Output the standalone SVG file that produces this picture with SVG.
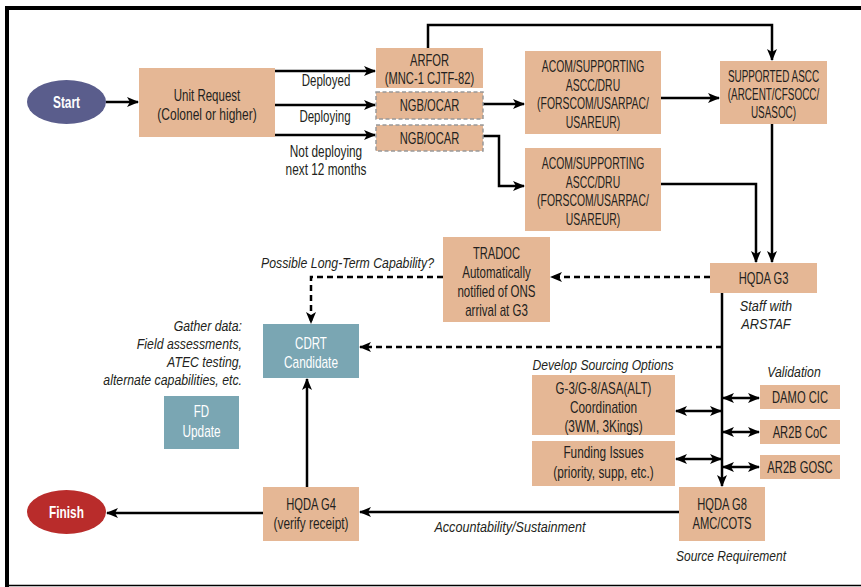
<svg xmlns="http://www.w3.org/2000/svg" width="861" height="587" viewBox="0 0 861 587">
<defs>
<style>
.box{fill:#e5b795}
.teal{fill:#7aa6b3}
.dbox{fill:#e5b795;stroke:#999;stroke-width:1.5;stroke-dasharray:4,2.5}
text{font-family:"Liberation Sans",Arial,sans-serif;font-size:16px;fill:#231f20;text-anchor:middle}
.w{fill:#fff}
.b{font-weight:bold;fill:#fff}
.i{font-style:italic;font-size:15px}
.e{text-anchor:end}
.c{fill:none;stroke:#000;stroke-width:2.5}
.d{fill:none;stroke:#000;stroke-width:2.5;stroke-dasharray:6,4}
</style>
<marker id="a" viewBox="0 0 12 10" refX="11" refY="5" markerWidth="12" markerHeight="10" markerUnits="userSpaceOnUse" orient="auto-start-reverse">
<path d="M0,0 L12,5 L0,10 L3,5 z" fill="#000"/>
</marker>
</defs>
<rect width="861" height="587" fill="#fff"/>
<path d="M7,587 V8 H861" fill="none" stroke="#000" stroke-width="4"/>
<line x1="5" y1="585.5" x2="861" y2="585.5" stroke="#000" stroke-width="1.5"/>

<g id="connectors">
<line class="c" x1="106" y1="102" x2="138" y2="102" marker-end="url(#a)"/>
<line class="c" x1="275" y1="71" x2="375" y2="71" marker-end="url(#a)"/>
<line class="c" x1="275" y1="105" x2="375" y2="105" marker-end="url(#a)"/>
<line class="c" x1="275" y1="135" x2="375" y2="135" marker-end="url(#a)"/>
<polyline class="c" points="428,48 428,25 772,25 772,60" marker-end="url(#a)"/>
<line class="c" x1="483" y1="104" x2="524" y2="104" marker-end="url(#a)"/>
<polyline class="c" points="483,136 499,136 499,186 524,186" marker-end="url(#a)"/>
<line class="c" x1="661" y1="98" x2="719" y2="98" marker-end="url(#a)"/>
<polyline class="c" points="661,184 756,184 756,262" marker-end="url(#a)"/>
<line class="c" x1="772" y1="124" x2="772" y2="262" marker-end="url(#a)"/>
<line class="c" x1="722" y1="293" x2="722" y2="486" marker-end="url(#a)"/>
<line class="d" x1="710" y1="277" x2="551" y2="277" marker-end="url(#a)"/>
<polyline class="d" points="443,277 311,277 311,323" marker-end="url(#a)"/>
<line class="d" x1="722" y1="347" x2="360" y2="347" marker-end="url(#a)"/>
<line class="c" x1="676" y1="411" x2="721" y2="411" marker-start="url(#a)" marker-end="url(#a)"/>
<line class="c" x1="676" y1="459" x2="721" y2="459" marker-start="url(#a)" marker-end="url(#a)"/>
<line class="c" x1="723" y1="398" x2="759" y2="398" marker-start="url(#a)" marker-end="url(#a)"/>
<line class="c" x1="723" y1="432" x2="759" y2="432" marker-start="url(#a)" marker-end="url(#a)"/>
<line class="c" x1="723" y1="467" x2="759" y2="467" marker-start="url(#a)" marker-end="url(#a)"/>
<line class="c" x1="679" y1="512" x2="360" y2="512" marker-end="url(#a)"/>
<line class="c" x1="307" y1="487" x2="307" y2="379" marker-end="url(#a)"/>
<line class="c" x1="263" y1="513" x2="107" y2="513" marker-end="url(#a)"/>
</g>

<g id="labels">
<text transform="translate(326,86) scale(.72,1)">Deployed</text>
<text transform="translate(325,122) scale(.72,1)">Deploying</text>
<text transform="translate(326,157) scale(.74,1)">Not deploying</text>
<text transform="translate(326,175) scale(.74,1)">next 12 months</text>
<text class="i e" transform="translate(434,268) scale(.82,1)">Possible Long-Term Capability?</text>
<text class="i" transform="translate(766,311) scale(.85,1)">Staff with</text>
<text class="i" transform="translate(766,329) scale(.85,1)">ARSTAF</text>
<text class="i e" transform="translate(242,331) scale(.82,1)">Gather data:</text>
<text class="i e" transform="translate(242,349) scale(.82,1)">Field assessments,</text>
<text class="i e" transform="translate(242,367) scale(.82,1)">ATEC testing,</text>
<text class="i e" transform="translate(242,385) scale(.82,1)">alternate capabilities, etc.</text>
<text class="i" transform="translate(603,370) scale(.81,1)">Develop Sourcing Options</text>
<text class="i" transform="translate(794,377) scale(.82,1)">Validation</text>
<text class="i" transform="translate(510,532) scale(.84,1)">Accountability/Sustainment</text>
<text class="i" transform="translate(731,561) scale(.8,1)">Source Requirement</text>
</g>

<g id="start"><ellipse cx="66.5" cy="102" rx="39.5" ry="22" fill="#5a5d8c"/><text class="b" transform="translate(66.5,108) scale(.74,1)">Start</text></g>
<g id="finish"><ellipse cx="66.5" cy="512" rx="39.5" ry="22" fill="#b92c2b"/><text class="b" transform="translate(66.5,518) scale(.74,1)">Finish</text></g>

<g id="unit-request"><rect class="box" x="139" y="68" width="136" height="69"/><text transform="translate(207,101) scale(.72,1)">Unit Request</text><text transform="translate(207,120) scale(.75,1)">(Colonel or higher)</text></g>
<g id="arfor"><rect class="box" x="376" y="48" width="107" height="40"/><text transform="translate(429.5,66) scale(.7,1)">ARFOR</text><text transform="translate(429.5,84) scale(.7,1)">(MNC-1 CJTF-82)</text></g>
<g id="ngb1"><rect class="dbox" x="376" y="92" width="107" height="27"/><text transform="translate(429.5,111) scale(.7,1)">NGB/OCAR</text></g>
<g id="ngb2"><rect class="dbox" x="376" y="125" width="107" height="26"/><text transform="translate(429.5,144) scale(.7,1)">NGB/OCAR</text></g>
<g id="acom1"><rect class="box" x="525" y="51" width="136" height="83"/><text transform="translate(593,72) scale(.65,1)">ACOM/SUPPORTING</text><text transform="translate(593,91) scale(.65,1)">ASCC/DRU</text><text transform="translate(593,109) scale(.65,1)">(FORSCOM/USARPAC/</text><text transform="translate(593,128) scale(.65,1)">USAREUR)</text></g>
<g id="acom2"><rect class="box" x="525" y="148" width="136" height="83"/><text transform="translate(593,169) scale(.65,1)">ACOM/SUPPORTING</text><text transform="translate(593,188) scale(.65,1)">ASCC/DRU</text><text transform="translate(593,206) scale(.65,1)">(FORSCOM/USARPAC/</text><text transform="translate(593,225) scale(.65,1)">USAREUR)</text></g>
<g id="supported-ascc"><rect class="box" x="720" y="61" width="107" height="63"/><text transform="translate(773.5,82) scale(.62,1)">SUPPORTED ASCC</text><text transform="translate(773.5,100) scale(.62,1)">(ARCENT/CFSOCC/</text><text transform="translate(773.5,118) scale(.62,1)">USASOC)</text></g>
<g id="hqda-g3"><rect class="box" x="710" y="263" width="107" height="30"/><text transform="translate(763.5,284) scale(.7,1)">HQDA G3</text></g>
<g id="tradoc"><rect class="box" x="443" y="237" width="107" height="85"/><text transform="translate(496.5,259) scale(.7,1)">TRADOC</text><text transform="translate(496.5,278) scale(.72,1)">Automatically</text><text transform="translate(496.5,297) scale(.72,1)">notified of ONS</text><text transform="translate(496.5,316) scale(.72,1)">arrival at G3</text></g>
<g id="cdrt"><rect class="teal" x="263" y="324" width="96" height="54"/><text class="w" transform="translate(311,349) scale(.72,1)">CDRT</text><text class="w" transform="translate(311,368) scale(.74,1)">Candidate</text></g>
<g id="fd-update"><rect class="teal" x="164" y="396" width="75" height="53"/><text class="w" transform="translate(201.5,417) scale(.72,1)">FD</text><text class="w" transform="translate(201.5,437) scale(.74,1)">Update</text></g>
<g id="g3-coord"><rect class="box" x="532" y="375" width="143" height="60"/><text transform="translate(603.5,394) scale(.72,1)">G-3/G-8/ASA(ALT)</text><text transform="translate(603.5,413) scale(.74,1)">Coordination</text><text transform="translate(603.5,432) scale(.74,1)">(3WM, 3Kings)</text></g>
<g id="funding"><rect class="box" x="532" y="441" width="143" height="45"/><text transform="translate(603.5,458) scale(.74,1)">Funding Issues</text><text transform="translate(603.5,478) scale(.74,1)">(priority, supp, etc.)</text></g>
<g id="damo"><rect class="box" x="760" y="385" width="80" height="24"/><text transform="translate(800,403) scale(.7,1)">DAMO CIC</text></g>
<g id="ar2b-coc"><rect class="box" x="760" y="420" width="80" height="24"/><text transform="translate(800,438) scale(.7,1)">AR2B CoC</text></g>
<g id="ar2b-gosc"><rect class="box" x="760" y="455" width="80" height="24"/><text transform="translate(800,473) scale(.7,1)">AR2B GOSC</text></g>
<g id="hqda-g8"><rect class="box" x="679" y="487" width="86" height="54"/><text transform="translate(722,510) scale(.7,1)">HQDA G8</text><text transform="translate(722,529) scale(.7,1)">AMC/COTS</text></g>
<g id="hqda-g4"><rect class="box" x="263" y="487" width="96" height="54"/><text transform="translate(311,510) scale(.7,1)">HQDA G4</text><text transform="translate(311,529) scale(.74,1)">(verify receipt)</text></g>
</svg>
